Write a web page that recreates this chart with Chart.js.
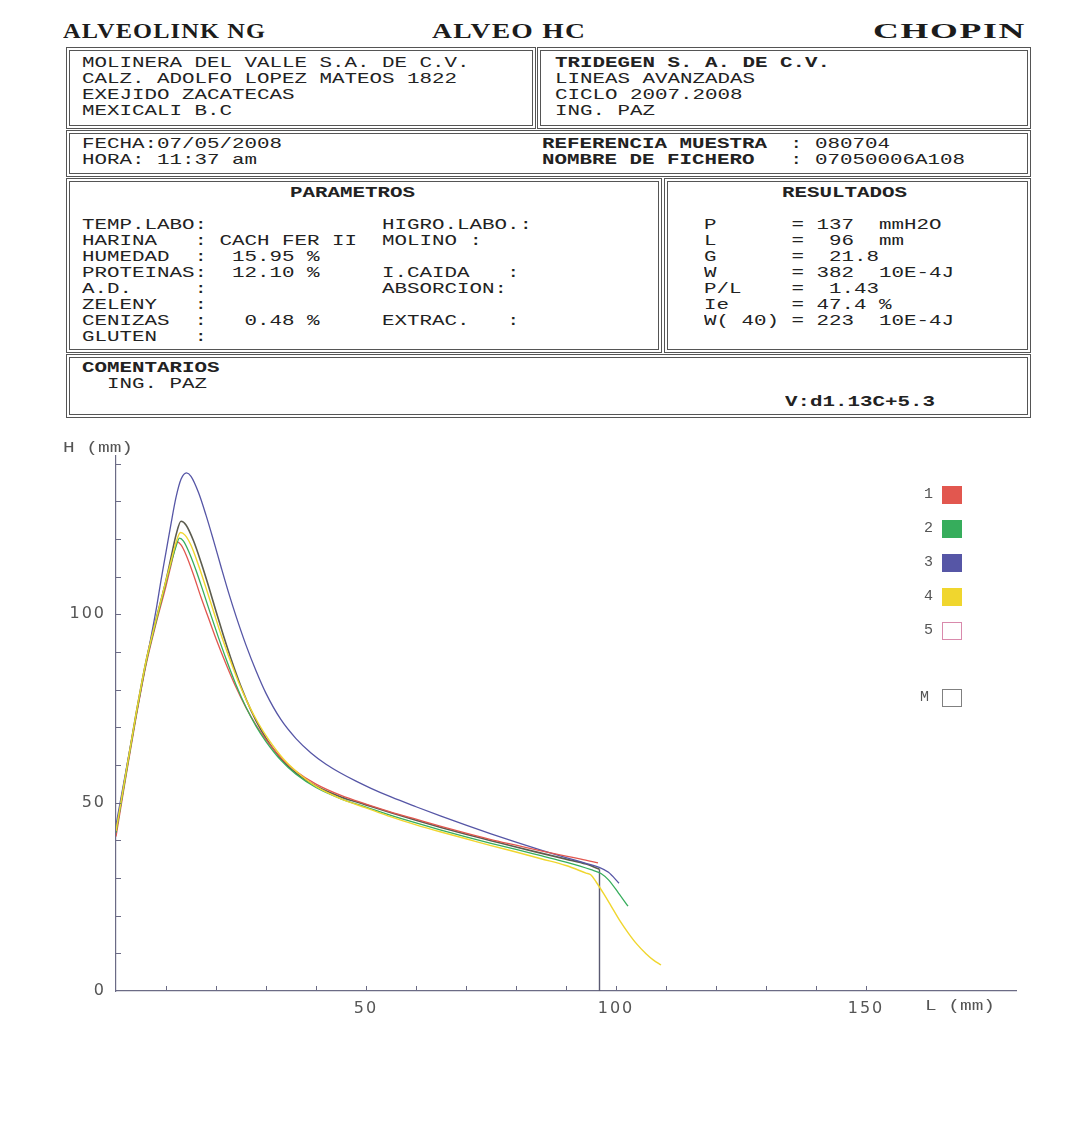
<!DOCTYPE html>
<html><head><meta charset="utf-8">
<script src="https://cdn.jsdelivr.net/npm/chart.js@4.4.1/dist/chart.umd.min.js"></script>
<style>
html,body{margin:0;padding:0;background:#fff;}
body{width:1077px;height:1129px;position:relative;overflow:hidden;font-family:"Liberation Mono",monospace;color:#222;}
.t{position:absolute;white-space:pre;font-size:15px;line-height:16px;transform:scaleX(1.389);transform-origin:0 0;}
.b{font-weight:bold;}
.cell{position:absolute;box-sizing:border-box;border:4px double #555;}
.title{position:absolute;font-family:"Liberation Serif",serif;font-weight:bold;font-size:21px;line-height:24px;white-space:pre;transform-origin:0 0;color:#1c1c1c;letter-spacing:1px;}
.lgbox{position:absolute;width:20px;height:18px;box-sizing:border-box;}
.lgt{position:absolute;font-size:15px;line-height:16px;color:#555;white-space:pre;}
#c{position:absolute;left:56px;top:432px;}
</style></head>
<body>
<div class="title fit" data-w="203" style="left:63px;top:19px">ALVEOLINK NG</div>
<div class="title fit" data-w="155" style="left:432px;top:19px">ALVEO HC</div>
<div class="title fit" data-w="153" style="left:873px;top:19px">CHOPIN</div>

<div class="cell" style="left:66px;top:47px;width:470px;height:82px"></div>
<div class="cell" style="left:537px;top:47px;width:494px;height:82px"></div>
<div class="cell" style="left:66px;top:130px;width:965px;height:47px"></div>
<div class="cell" style="left:66px;top:178px;width:596px;height:175px"></div>
<div class="cell" style="left:664px;top:178px;width:367px;height:175px"></div>
<div class="cell" style="left:66px;top:354px;width:965px;height:64px"></div>

<div class="t" style="left:82px;top:56px">MOLINERA DEL VALLE S.A. DE C.V.</div>
<div class="t" style="left:82px;top:72px">CALZ. ADOLFO LOPEZ MATEOS 1822</div>
<div class="t" style="left:82px;top:88px">EXEJIDO ZACATECAS</div>
<div class="t" style="left:82px;top:104px">MEXICALI B.C</div>
<div class="t b" style="left:555px;top:56px">TRIDEGEN S. A. DE C.V.</div>
<div class="t" style="left:555px;top:72px">LINEAS AVANZADAS</div>
<div class="t" style="left:555px;top:88px">CICLO 2007.2008</div>
<div class="t" style="left:555px;top:104px">ING. PAZ</div>

<div class="t" style="left:82px;top:137px">FECHA:07/05/2008</div>
<div class="t" style="left:82px;top:153px">HORA: 11:37 am</div>
<div class="t b" style="left:542px;top:137px">REFERENCIA MUESTRA</div>
<div class="t b" style="left:542px;top:153px">NOMBRE DE FICHERO</div>
<div class="t" style="left:790px;top:137px">: 080704</div>
<div class="t" style="left:790px;top:153px">: 07050006A108</div>

<div class="t b" style="left:290px;top:186px">PARAMETROS</div>
<div class="t b" style="left:782px;top:186px">RESULTADOS</div>
<div class="t" style="left:82px;top:218px">TEMP.LABO:              HIGRO.LABO.:
HARINA   : CACH FER II  MOLINO :
HUMEDAD  :  15.95 %
PROTEINAS:  12.10 %     I.CAIDA   :
A.D.     :              ABSORCION:
ZELENY   :
CENIZAS  :   0.48 %     EXTRAC.   :
GLUTEN   :</div>
<div class="t" style="left:704px;top:218px">P      = 137  mmH2O
L      =  96  mm
G      =  21.8
W      = 382  10E-4J
P/L    =  1.43
Ie     = 47.4 %
W( 40) = 223  10E-4J</div>

<div class="t b" style="left:82px;top:361px">COMENTARIOS</div>
<div class="t" style="left:82px;top:377px">  ING. PAZ</div>
<div class="t b" style="left:785px;top:395px">V:d1.13C+5.3</div>

<canvas id="c" width="980" height="599"></canvas>
<div class="t" style="left:63px;top:440px;color:#555;font-size:14px">H (mm)</div>
<div class="t" style="left:925px;top:998px;color:#555;font-size:14px">L (mm)</div>

<div id="legend"></div>

<script>
// ---- data ----
const L1 = [0, 2, 4, 6, 8, 10, 11, 11.8, 12.2, 13, 14, 15.5, 17, 18.5, 20, 22, 24, 26, 28, 30, 33, 36, 40, 45, 50, 55, 60, 65, 70, 75, 80, 85, 90, 93, 96.4];
const H1 = [41, 57, 72.5, 86.5, 97.5, 107.5, 113, 117.5, 119.2, 118.4, 115.8, 110.5, 104.5, 99, 93.5, 86.8, 80.6, 75.2, 70.6, 66.7, 61.9, 58.3, 54.9, 51.9, 49.6, 47.5, 45.6, 43.7, 41.9, 40.2, 38.7, 37.2, 35.8, 35, 34];

const L2 = [0, 2, 4, 6, 8, 10, 11, 12, 12.7, 13.5, 14.5, 16, 17.5, 19, 20.5, 22, 24, 26, 28, 30, 33, 36, 40, 45, 50, 55, 60, 65, 70, 75, 80, 85, 90, 95, 97, 98.5, 100.5, 102.4];
const H2 = [42, 57.5, 73, 87, 98, 108.5, 113.5, 118, 120.2, 119.4, 116.8, 111.7, 105.8, 99.7, 93.8, 88.2, 81.3, 75.3, 70.3, 66.2, 61.2, 57.5, 54, 51, 48.8, 46.6, 44.6, 42.7, 40.9, 39.2, 37.6, 35.9, 34.2, 32.2, 31.2, 29.5, 26, 22.5];

const L3 = [0, 2, 4, 6, 8, 9, 10, 11, 12, 13, 14.1, 15, 16.5, 18, 19.5, 21, 22.5, 24, 26, 28, 30, 33, 36, 39, 42, 45, 48, 51, 55, 60, 65, 70, 75, 80, 85, 90, 94, 96.5, 98.5, 100.6];
const H3 = [44, 58.5, 73, 87, 101, 109, 116.5, 124, 131, 135.8, 137.5, 136.6, 132.3, 126.3, 119.6, 112.6, 105.8, 99.5, 91.8, 85, 79, 72, 67, 63.2, 60.2, 57.8, 55.7, 53.8, 51.5, 48.9, 46.4, 44, 41.7, 39.5, 37.4, 35.4, 33.9, 32.9, 31.5, 28.6];

const L4 = [0, 2, 4, 6, 8, 10, 11, 12, 12.9, 13.8, 15, 16.5, 18, 19.5, 21, 22.5, 24.5, 26.5, 28.5, 30.5, 33.5, 36.5, 40, 45, 50, 55, 60, 65, 70, 75, 80, 85, 90, 94, 95, 96, 97.5, 99, 100.7, 102.5, 104, 106, 107.5, 109];
const H4 = [42.5, 58, 73.5, 87.5, 98.5, 109, 114, 119, 121.7, 121, 118.3, 113, 107, 100.8, 94.6, 89, 82, 76, 71, 66.8, 61.6, 57.8, 54.3, 51, 48.6, 46.2, 44.1, 42.2, 40.4, 38.6, 36.9, 35.1, 33.3, 31.3, 30.8, 29, 25.9, 22.6, 18.8, 15.3, 12.7, 9.9, 8.2, 6.9];

const LM = [0, 2, 4, 6, 8, 10, 11, 12, 13, 14, 15.5, 17, 18.5, 20, 21.5, 23, 25, 27, 29, 31, 34, 37, 40, 45, 50, 55, 60, 65, 70, 75, 80, 85, 90, 94, 96.7];
const HM = [42.5, 58, 73.5, 87.5, 98.5, 109, 115, 121, 124.7, 123.7, 119.5, 113.8, 107.5, 100.8, 94.3, 88.2, 80.8, 74.5, 69.3, 65.1, 60.2, 56.9, 54.4, 51.5, 49.4, 47.3, 45.3, 43.4, 41.6, 39.9, 38.2, 36.6, 35, 33.7, 32.3];

const legendLabels = ['1', '2', '3', '4', '5', 'M'];
const xTickLabels = [50, 100, 150];
const yTickLabels = [0, 50, 100];

// ---- styles ----
const COLORS = {c1:'#e2574f', c2:'#36ad5c', c3:'#5656a6', c4:'#f0d62e', c5:'#d98aac', cM:'#5c5c4e'};

const pts = (L, H) => L.map((x, i) => ({x: x, y: H[i]}));
const mEnd = {x: LM[LM.length - 1], y: HM[HM.length - 1]};

// legend (HTML)
const lgTops = [486, 520, 554, 588, 622, 689];
const lgFill = [COLORS.c1, COLORS.c2, COLORS.c3, COLORS.c4, '#fff', '#fff'];
const lgBorder = [COLORS.c1, COLORS.c2, COLORS.c3, COLORS.c4, COLORS.c5, '#808080'];
const lg = document.getElementById('legend');
legendLabels.forEach((lab, i) => {
  const t = document.createElement('div');
  t.className = 'lgt';
  t.style.left = (lab === 'M' ? 920 : 924) + 'px';
  t.style.top = (lgTops[i] + 1) + 'px';
  t.textContent = lab;
  lg.appendChild(t);
  const b = document.createElement('div');
  b.className = 'lgbox';
  b.style.left = '942px';
  b.style.top = lgTops[i] + 'px';
  b.style.background = lgFill[i];
  b.style.border = '1.5px solid ' + lgBorder[i];
  lg.appendChild(b);
});

// fit title widths
document.querySelectorAll('.fit').forEach(el => {
  const w = el.offsetWidth;
  el.style.transform = 'scaleX(' + (parseFloat(el.dataset.w) / w) + ')';
});

const innerTicks = {
  id: 'innerTicks',
  beforeDraw(chart) { chart.ctx.letterSpacing = '2px'; },
  afterDraw(chart) {
    const ctx = chart.ctx;
    const xs = chart.scales.x, ys = chart.scales.y;
    ctx.save();
    ctx.letterSpacing = '0px';
    ctx.strokeStyle = '#6b6b85';
    ctx.lineWidth = 1;
    ctx.beginPath();
    for (let v = 10; v <= 150; v += 10) {
      const px = Math.round(xs.getPixelForValue(v)) + 0.5;
      ctx.moveTo(px, ys.bottom);
      ctx.lineTo(px, ys.bottom - 5);
    }
    for (let v = 10; v <= 140; v += 10) {
      const py = Math.round(ys.getPixelForValue(v)) + 0.5;
      ctx.moveTo(xs.left, py);
      ctx.lineTo(xs.left + 5, py);
    }
    ctx.stroke();
    ctx.restore();
  }
};

const ds = (label, L, H, color, w) => ({
  label: label, data: pts(L, H), borderColor: color, backgroundColor: color,
  borderWidth: w, pointRadius: 0, fill: false, cubicInterpolationMode: 'monotone'
});

new Chart(document.getElementById('c').getContext('2d'), {
  type: 'line',
  data: {
    datasets: [
      ds('4', L4, H4, COLORS.c4, 1.4),
      ds('2', L2, H2, COLORS.c2, 1.3),
      ds('1', L1, H1, COLORS.c1, 1.3),
      ds('3', L3, H3, COLORS.c3, 1.3),
      ds('M', LM, HM, COLORS.cM, 1.6),
      {label: 'M-L', data: [mEnd, {x: mEnd.x, y: 0}], borderColor: '#5a5a72', borderWidth: 1.4, pointRadius: 0, tension: 0}
    ]
  },
  options: {
    responsive: false, animation: false, devicePixelRatio: 1,
    layout: {padding: {top: 24, right: 20, left: 0, bottom: 0}},
    plugins: {legend: {display: false}, tooltip: {enabled: false}},
    scales: {
      x: {
        type: 'linear', min: 0, max: 180,
        grid: {display: false, drawTicks: false},
        border: {display: true, color: '#6b6b85', width: 1.2},
        ticks: {stepSize: 10, autoSkip: false, maxRotation: 0, padding: 8, color: '#555',
          font: {family: 'DejaVu Sans', size: 16},
          callback: v => xTickLabels.includes(v) ? String(v) : ''},
        afterFit: s => { s.height = 40; }
      },
      y: {
        type: 'linear', min: 0, max: 142,
        grid: {display: false, drawTicks: false},
        border: {display: true, color: '#6b6b85', width: 1.2},
        ticks: {stepSize: 10, autoSkip: false, padding: 10, color: '#555',
          font: {family: 'DejaVu Sans', size: 16},
          callback: v => yTickLabels.includes(v) ? String(v) : ''},
        afterFit: s => { s.width = 60; }
      }
    }
  },
  plugins: [innerTicks]
});
</script>
</body></html>
